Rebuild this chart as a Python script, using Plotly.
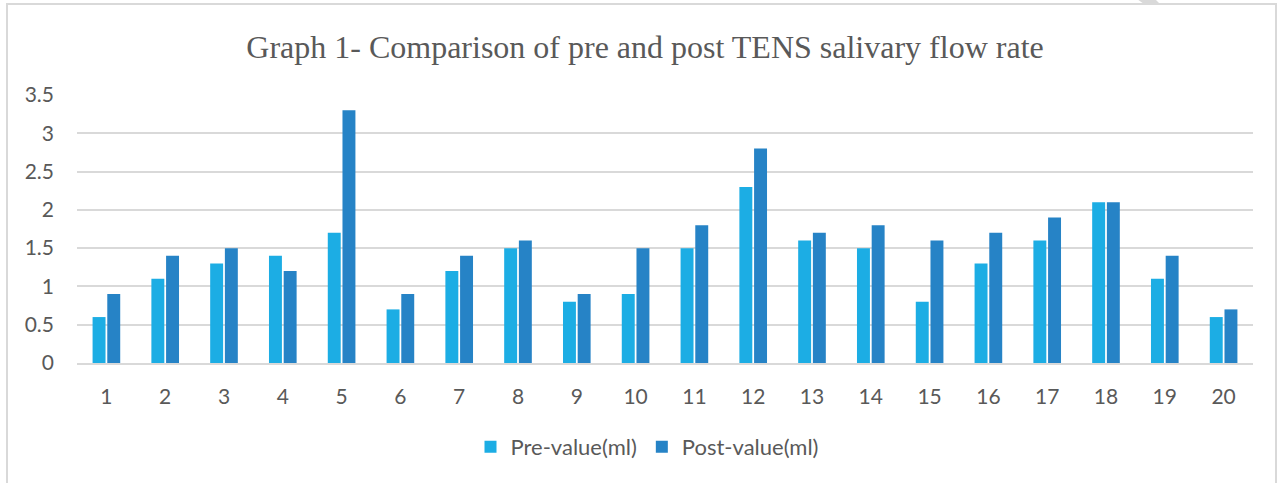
import plotly.graph_objects as go

categories = [str(i) for i in range(1, 21)]
pre_values = [0.6, 1.1, 1.3, 1.4, 1.7, 0.7, 1.2, 1.5, 0.8, 0.9,
              1.5, 2.3, 1.6, 1.5, 0.8, 1.3, 1.6, 2.1, 1.1, 0.6]
post_values = [0.9, 1.4, 1.5, 1.2, 3.3, 0.9, 1.4, 1.6, 0.9, 1.5,
               1.8, 2.8, 1.7, 1.8, 1.6, 1.7, 1.9, 2.1, 1.4, 0.7]
y_ticks = [0, 0.5, 1, 1.5, 2, 2.5, 3, 3.5]
y_tick_labels = ["0", "0.5", "1", "1.5", "2", "2.5", "3", "3.5"]

W, H = 1283, 483
L, R, T, B = 77, 1253, 95, 363

def px(x):
    return (x - L) / (R - L)

def py(y):
    return (B - y) / (B - T)

text_color = "#595959"
sans = "Lato, Carlito, Calibri, sans-serif"

fig = go.Figure()
fig.add_trace(go.Bar(name="Pre-value(ml)", x=categories, y=pre_values,
                     marker=dict(color="#1CADE4", line=dict(width=0))))
fig.add_trace(go.Bar(name="Post-value(ml)", x=categories, y=post_values,
                     marker=dict(color="#2683C6", line=dict(width=0))))

fig.update_layout(
    width=W, height=H,
    margin=dict(l=L, r=W - R, t=T, b=H - B, autoexpand=False),
    paper_bgcolor="white", plot_bgcolor="white",
    barmode="group", bargap=0.5, bargroupgap=0.12,
    title=dict(text="Graph 1- Comparison of pre and post TENS salivary flow rate",
               font=dict(family="Liberation Serif, Times New Roman, serif", size=32, color=text_color),
               x=645 / W, xanchor="center", xref="container",
               y=1 - 47 / H, yanchor="middle", yref="container"),
    showlegend=True,
    legend=dict(orientation="h", x=px(647), xanchor="center", y=py(447), yanchor="middle",
                font=dict(family=sans, size=22, color=text_color),
                itemwidth=30, traceorder="normal", bgcolor="rgba(0,0,0,0)"),
    font=dict(family=sans, color=text_color),
)
fig.update_yaxes(range=[0, 3.5], tickvals=y_ticks, ticktext=y_tick_labels,
                 showgrid=True, gridcolor="#D9D9D9", gridwidth=1.5,
                 zeroline=False, showline=False, ticks="",
                 tickfont=dict(family=sans, size=21, color=text_color),
                 ticklabelstandoff=22, fixedrange=True)
fig.update_xaxes(showline=True, linecolor="#D9D9D9", linewidth=2, ticks="",
                 tickfont=dict(family=sans, size=21, color=text_color),
                 ticklabelstandoff=14, showgrid=False, fixedrange=True)

# chart border (page frame)
fig.add_shape(type="path", xref="paper", yref="paper",
              path=f"M {px(7)} {py(495)} L {px(7)} {py(4)} L {px(1276)} {py(4)} L {px(1276)} {py(495)}",
              line=dict(color="#D9D9D9", width=2), layer="below")
# small grey artifact at top right
fig.add_shape(type="path", xref="paper", yref="paper",
              path=f"M {px(1137)} {py(-1)} L {px(1155)} {py(-1)} L {px(1160)} {py(4)} L {px(1144)} {py(4)} Z",
              fillcolor="#D9D9D9", line=dict(width=0), layer="below")

fig.write_html("out.html", config={"displayModeBar": False},
               post_script="document.body.style.margin='0';document.body.style.overflow='hidden';")
